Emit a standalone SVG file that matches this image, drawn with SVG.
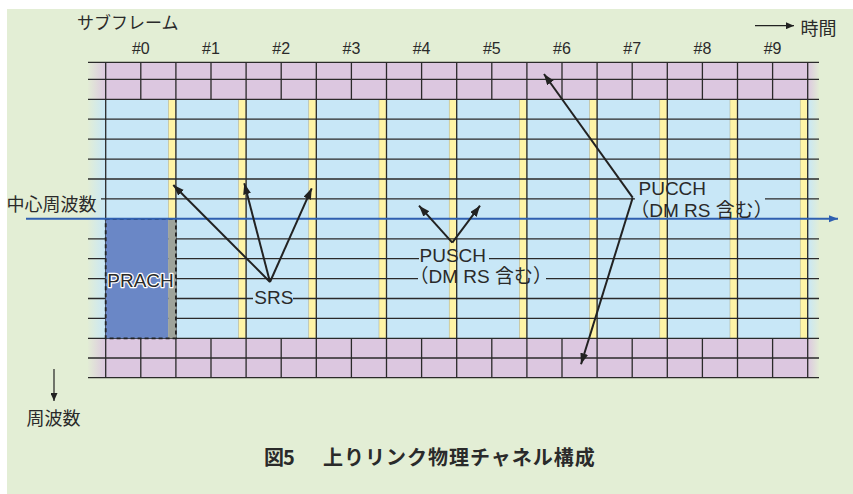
<svg xmlns="http://www.w3.org/2000/svg" width="853" height="494" viewBox="0 0 853 494">
<style>
.t{font-family:"Liberation Sans","Noto Sans CJK JP",sans-serif;fill:#2a2a2a}
.jp{font-family:"Noto Sans CJK JP",sans-serif;fill:#2a2a2a}
.g{stroke:#2a2a2a;stroke-width:1.3;fill:none}
.arr{stroke:#222;stroke-width:2;fill:none;marker-end:url(#ah)}
.ylw{fill:#FFF4A6;stroke:#a9a68a;stroke-width:0.5}
</style>
<defs>
<marker id="ah" markerUnits="userSpaceOnUse" markerWidth="12" markerHeight="9" refX="11" refY="4" orient="auto"><path d="M0,0 L11,4 L0,8 z" fill="#222"/></marker>
<marker id="ahs" markerUnits="userSpaceOnUse" markerWidth="9" markerHeight="7" refX="8" refY="3.5" orient="auto"><path d="M0,0 L8,3.5 L0,7 z" fill="#222"/></marker>
<marker id="ahb" markerUnits="userSpaceOnUse" markerWidth="10" markerHeight="8" refX="9" refY="3.5" orient="auto"><path d="M0,0 L9,3.5 L0,7 z" fill="#2F5FB0"/></marker>
<linearGradient id="fadeL" x1="0" x2="1" y1="0" y2="0"><stop offset="0" stop-color="#E3EED5" stop-opacity="1"/><stop offset="1" stop-color="#E3EED5" stop-opacity="0"/></linearGradient>
<linearGradient id="fadeR" x1="0" x2="1" y1="0" y2="0"><stop offset="0" stop-color="#E3EED5" stop-opacity="0"/><stop offset="1" stop-color="#E3EED5" stop-opacity="1"/></linearGradient>
</defs>
<rect x="0" y="0" width="853" height="494" fill="#ffffff"/>
<rect x="7" y="9" width="846" height="485" fill="#E3EED5"/>
<g id="grid">
<rect x="88" y="62.3" width="731" height="37" fill="#DCC7E0"/>
<rect x="88" y="99.3" width="731" height="239" fill="#C8E7F7"/>
<rect x="88" y="338.3" width="731" height="39.4" fill="#DCC7E0"/>
<rect x="87" y="62" width="19" height="316" fill="url(#fadeL)"/>
<rect x="807.7" y="62" width="12" height="316" fill="url(#fadeR)"/>
<g id="yellow">
<rect class="ylw" x="168.4" y="99.3" width="7.5" height="239"/>
<rect class="ylw" x="238.6" y="99.3" width="7.5" height="239"/>
<rect class="ylw" x="308.8" y="99.3" width="7.5" height="239"/>
<rect class="ylw" x="379.0" y="99.3" width="7.5" height="239"/>
<rect class="ylw" x="449.2" y="99.3" width="7.5" height="239"/>
<rect class="ylw" x="519.4" y="99.3" width="7.5" height="239"/>
<rect class="ylw" x="589.6" y="99.3" width="7.5" height="239"/>
<rect class="ylw" x="659.8" y="99.3" width="7.5" height="239"/>
<rect class="ylw" x="730.0" y="99.3" width="7.5" height="239"/>
<rect class="ylw" x="800.2" y="99.3" width="7.5" height="239"/>
</g>
<path class="g" d="M88,62.3H819 M88,79.3H819 M88,99.3H819 M88,119.2H819 M88,139.1H819 M88,159.1H819 M88,179H819 M101,198.9H635 M765,198.9H819 M88,238.8H819 M88,258.7H419 M489,258.7H819 M88,278.6H418 M546,278.6H819 M88,298.5H253 M293,298.5H819 M88,318.4H819 M88,338.3H819 M88,358H819 M88,377.7H819"/>
<path class="g" d="M105.7,62.3V377.7 M175.9,62.3V377.7 M246.1,62.3V377.7 M316.3,62.3V377.7 M386.5,62.3V377.7 M456.7,62.3V377.7 M526.9,62.3V377.7 M597.1,62.3V377.7 M667.3,62.3V377.7 M737.5,62.3V377.7 M807.7,62.3V377.7
M140.8,62.3V99.3 M211,62.3V99.3 M281.2,62.3V99.3 M351.4,62.3V99.3 M421.6,62.3V99.3 M491.8,62.3V99.3 M562,62.3V99.3 M632.2,62.3V99.3 M702.4,62.3V99.3 M772.6,62.3V99.3
M140.8,338.3V377.7 M211,338.3V377.7 M281.2,338.3V377.7 M351.4,338.3V377.7 M421.6,338.3V377.7 M491.8,338.3V377.7 M562,338.3V377.7 M632.2,338.3V377.7 M702.4,338.3V377.7 M772.6,338.3V377.7"/>
</g>
<g id="prach">
<rect x="105.7" y="218.8" width="62.6" height="119.5" fill="#6A87C6"/>
<rect x="168.3" y="218.8" width="7.6" height="119.5" fill="#9EA39A"/>
<rect x="105.7" y="218.8" width="70.2" height="119.5" fill="none" stroke="#222" stroke-width="1.8" stroke-dasharray="4,3"/>
<text class="t" x="140.5" y="287" font-size="19" text-anchor="middle" stroke="#ffffff" stroke-width="2.5" paint-order="stroke" stroke-linejoin="round">PRACH</text>
</g>
<g id="center-freq">
<text class="jp" x="6.5" y="211" font-size="18">中心周波数</text>
<line x1="26" y1="218.8" x2="838" y2="218.8" stroke="#2F5FB0" stroke-width="2" marker-end="url(#ahb)"/>
</g>
<g id="header">
<text class="jp" x="77" y="29" font-size="17">サブフレーム</text>
<g class="t" font-size="16" text-anchor="middle">
<text x="140.8" y="54">#0</text>
<text x="211" y="54">#1</text>
<text x="281.2" y="54">#2</text>
<text x="351.4" y="54">#3</text>
<text x="421.6" y="54">#4</text>
<text x="491.8" y="54">#5</text>
<text x="562" y="54">#6</text>
<text x="632.2" y="54">#7</text>
<text x="702.4" y="54">#8</text>
<text x="772.6" y="54">#9</text>
</g>
</g>
<g id="time-axis">
<line x1="755" y1="25.7" x2="794" y2="25.7" stroke="#222" stroke-width="1.2" marker-end="url(#ahs)"/>
<text class="jp" x="800.5" y="35" font-size="18">時間</text>
</g>
<g id="freq-axis">
<line x1="54" y1="369" x2="54" y2="401" stroke="#222" stroke-width="1.2" marker-end="url(#ahs)"/>
<text class="jp" x="26.5" y="425" font-size="18">周波数</text>
</g>
<g id="srs">
<text class="t" x="273.8" y="303.5" font-size="19" text-anchor="middle">SRS</text>
</g>
<g id="pusch">
<text class="t" x="419.5" y="261.7" font-size="19">PUSCH</text>
<text class="t" x="409.5" y="282.5" font-size="19">（DM RS 含む）</text>
</g>
<g id="pucch">
<text class="t" x="638.5" y="195.3" font-size="19">PUCCH</text>
<text class="t" x="630.3" y="216.5" font-size="19">（DM RS 含む）</text>
</g>
<g id="connectors">
<line class="arr" x1="270" y1="282" x2="173.3" y2="185"/>
<line class="arr" x1="270" y1="282" x2="244.3" y2="183.3"/>
<line class="arr" x1="270" y1="282" x2="311.7" y2="188.3"/>
<line class="arr" x1="452.3" y1="242.7" x2="419" y2="205.7"/>
<line class="arr" x1="452.3" y1="242.7" x2="480" y2="205.7"/>
<line class="arr" x1="632.7" y1="197.7" x2="544" y2="74"/>
<line class="arr" x1="632.7" y1="197.7" x2="581" y2="364.3"/>
</g>
<g id="caption">
<text class="jp" font-size="20" font-weight="bold"><tspan x="264" y="465">図</tspan><tspan x="283" y="465">5　</tspan><tspan x="323" y="465" letter-spacing="1">上りリンク物理チャネル構成</tspan></text>
</g>
</svg>
